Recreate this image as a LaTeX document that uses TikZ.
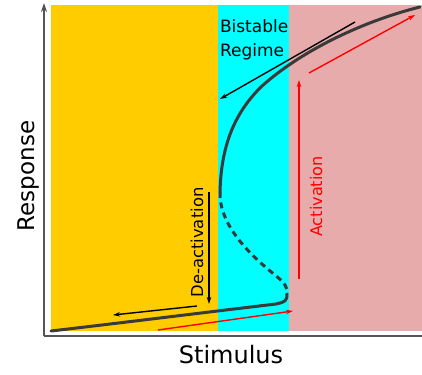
\documentclass[tikz,border=0pt]{standalone}
\usepackage{fontspec}
\setmainfont{DejaVu Sans}
\usetikzlibrary{arrows.meta}
\definecolor{regY}{HTML}{FFCC00}
\definecolor{regC}{HTML}{00FFFF}
\definecolor{regP}{HTML}{E8ABAB}
\definecolor{curveC}{HTML}{3A3A3A}
\definecolor{axisC}{HTML}{555555}
\tikzset{
  curveline/.style={draw=curveC, line width=3pt, line cap=round, line join=round},
  blkarrow/.style={draw=black, line width=1.4pt, -{Stealth[length=7pt,width=4.5pt]}},
  redarrow/.style={draw=red, line width=1.4pt, -{Stealth[length=7pt,width=4.5pt]}},
  lbl/.style={inner sep=0pt, outer sep=0pt},
}
\begin{document}
\begin{tikzpicture}[x=1pt,y=-1pt]
\useasboundingbox (0,0) rectangle (422,374);
% regions
\fill[regY] (51,5) rectangle (218,331);
\fill[regC] (218,5) rectangle (289,331);
\fill[regP] (289,5) rectangle (422,331);
% axes
\coordinate (orig) at (44,336);
\coordinate (ytop) at (44,3);
\coordinate (xend) at (422,336);
\draw[axisC, line width=1.2pt] (orig) -- (xend);
\draw[axisC, line width=1.2pt, -{Stealth[length=9pt,width=6pt,fill=black]}] (orig) -- (ytop);
% curve
\coordinate (foldU) at (220,192);
\coordinate (foldL) at (287,294);
\coordinate (cTop) at (420,7);
\coordinate (cBot) at (51,331);
\draw[curveline] (foldU) .. controls (221,150) and (232,115) .. (262,86)
  .. controls (300,52) and (360,22) .. (cTop);
\draw[curveline, dash pattern=on 6pt off 4.5pt, line cap=butt] (foldU) .. controls (219,225) and (250,255) .. (275,275)
  .. controls (285,283) and (288,288) .. (foldL);
\draw[curveline] (foldL) .. controls (287,301) and (285,302) .. (276,304)
  .. controls (200,313) and (120,323) .. (cBot);
% arrows
\coordinate (a1s) at (355,22);  \coordinate (a1e) at (220,99);
\coordinate (a2s) at (197,306); \coordinate (a2e) at (113,315);
\coordinate (a3s) at (209,192); \coordinate (a3e) at (209,304);
\coordinate (r1s) at (158,330); \coordinate (r1e) at (293,311);
\coordinate (r2s) at (299,279); \coordinate (r2e) at (299,80);
\coordinate (r3s) at (309,73);  \coordinate (r3e) at (415,15);
\draw[blkarrow] (a1s) -- (a1e);
\draw[blkarrow] (a2s) -- (a2e);
\draw[blkarrow] (a3s) -- (a3e);
\draw[redarrow] (r1s) -- (r1e);
\draw[redarrow] (r2s) -- (r2e);
\draw[redarrow] (r3s) -- (r3e);
% labels
\node[lbl, anchor=base west, font=\fontsize{17}{20}\selectfont] (bistA) at (220,33) {Bistable};
\node[lbl, anchor=base west, font=\fontsize{17}{20}\selectfont] (bistB) at (220,57) {Regime};
\node[lbl, anchor=base, rotate=90, font=\fontsize{16.4}{19}\selectfont] (deact) at (203,242.5) {De-activation};
\node[lbl, anchor=base, rotate=90, text=red, font=\fontsize{16.1}{19}\selectfont] (act) at (322,196.5) {Activation};
\node[lbl, anchor=base, font=\fontsize{24}{28}\selectfont] (stim) at (231,363) {Stimulus};
\node[lbl, anchor=base, rotate=90, font=\fontsize{23}{27}\selectfont] (resp) at (34,176) {Response};
\end{tikzpicture}
\end{document}
